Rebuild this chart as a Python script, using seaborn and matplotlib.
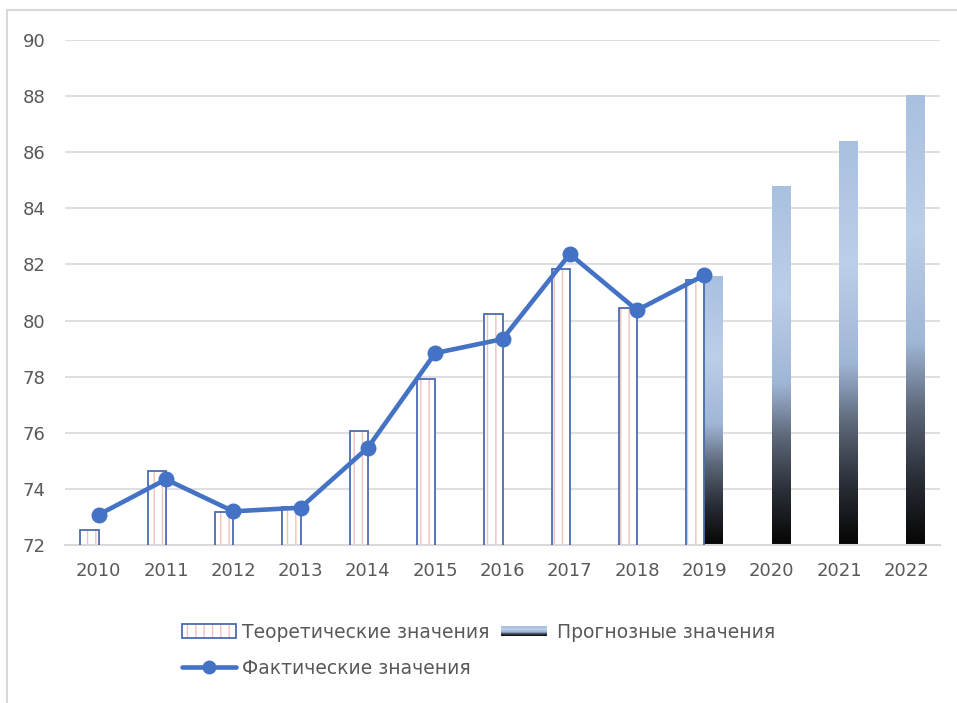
"""
Actual, theoretical and forecast values, 2010-2022
Clustered bars (theoretical / forecast) with the actual series as a line.
"""

import numpy as np
import pandas as pd
import matplotlib
matplotlib.use("Agg")
import matplotlib.pyplot as plt
import seaborn as sns
from matplotlib.colors import LinearSegmentedColormap
from matplotlib.legend_handler import HandlerBase, HandlerTuple
from matplotlib.patches import Rectangle
from matplotlib.lines import Line2D


# ─────────────────────────────────────────
# Data
# ─────────────────────────────────────────
years = ["2010", "2011", "2012", "2013", "2014", "2015", "2016",
         "2017", "2018", "2019", "2020", "2021", "2022"]

theoretical = [72.55, 74.62, 73.17, 73.35, 76.06, 77.92, 80.25,
               81.83, 80.46, 81.45, np.nan, np.nan, np.nan]

forecast = [np.nan] * 9 + [81.57, 84.78, 86.38, 88.02]

actual_years = years[:10]
actual = [73.08, 74.34, 73.20, 73.33, 75.47, 78.84, 79.34, 82.37, 80.37, 81.62]

series_names = ["Теоретические значения", "Прогнозные значения"]
line_name = "Фактические значения"

y_ticks = [72, 74, 76, 78, 80, 82, 84, 86, 88, 90]

# ─────────────────────────────────────────
# Styles
# ─────────────────────────────────────────
BLUE = "#4472C4"
OUTLINE = "#4a6cb0"
PINK = "#f0c2bc"
GRID = "#d9d9d9"
TEXT = "#595959"

grad_cmap = LinearSegmentedColormap.from_list(
    "forecast",
    [(0.00, "#050505"), (0.15, "#2a2e37"), (0.30, "#5c6778"),
     (0.45, "#a0b6d6"), (0.70, "#bccfe8"), (1.00, "#a9c0e0")],
)


class GradientHandler(HandlerBase):
    """Legend key drawn as a vertical gradient (dark bottom, light top)."""

    def create_artists(self, legend, orig_handle, xdescent, ydescent,
                       width, height, fontsize, trans):
        n = 24
        h = height * 0.7
        y0 = -ydescent + (height - h) / 2
        arts = []
        for i in range(n):
            arts.append(Rectangle(
                (-xdescent + width * 0.08, y0 + i * h / n), width * 0.84, h / n + 0.2,
                facecolor=grad_cmap(i / (n - 1)), edgecolor="none", transform=trans,
            ))
        return arts


# ─────────────────────────────────────────
# Plot
# ─────────────────────────────────────────
sns.set_theme(style="white")
plt.rcParams["font.family"] = ["DejaVu Sans"]

df = pd.DataFrame({
    "year": years * 2,
    "value": theoretical + forecast,
    "series": [series_names[0]] * len(years) + [series_names[1]] * len(years),
})

fig = plt.figure(figsize=(9.57, 7.03), dpi=100)
ax = fig.add_axes([65 / 957, 1 - 545 / 703, (940 - 65) / 957, (545 - 40) / 703])

sns.barplot(
    data=df, x="year", y="value", hue="series",
    order=years, hue_order=series_names,
    width=0.54, dodge=True, gap=0, ax=ax, legend=False,
    linewidth=0, zorder=2,
)

y_low, y_high = y_ticks[0], y_ticks[-1]

# theoretical bars: white with pink vertical hatch and blue outline
for p in ax.containers[0]:
    if np.isnan(p.get_height()):
        continue
    p.set_facecolor("white")
    p.set_edgecolor(PINK)
    p.set_hatch("||")
    p.set_linewidth(0)
    ax.add_patch(Rectangle(p.get_xy(), p.get_width(), p.get_height(),
                           fill=False, edgecolor=OUTLINE, lw=1.3, zorder=3))

# forecast bars: vertical gradient over the visible part of the bar
grad = np.linspace(0, 1, 256).reshape(-1, 1)
for p in ax.containers[1]:
    if np.isnan(p.get_height()):
        continue
    p.set_visible(False)
    x0 = p.get_x()
    ax.imshow(grad, extent=[x0, x0 + p.get_width(), y_low, p.get_y() + p.get_height()],
              origin="lower", cmap=grad_cmap, aspect="auto", zorder=2)

# actual values
sns.pointplot(
    x=actual_years, y=actual, order=years, ax=ax,
    color=BLUE, markers="o", markersize=9, linewidth=3.3,
    errorbar=None, zorder=5,
)

ax.set_xlim(-0.5, len(years) - 0.5)
ax.set_ylim(y_low, y_high)
ax.set_yticks(y_ticks)
ax.set_xlabel("")
ax.set_ylabel("")
ax.grid(axis="y", color=GRID, lw=1.2, zorder=0)
ax.set_axisbelow(True)
for s in ["left", "right", "top"]:
    ax.spines[s].set_visible(False)
ax.spines["bottom"].set_color(GRID)
ax.spines["bottom"].set_linewidth(1.5)
ax.tick_params(axis="both", length=0, labelsize=13, labelcolor=TEXT)
ax.tick_params(axis="x", pad=12)
ax.tick_params(axis="y", pad=14)

# legend
theo_handle = Rectangle((0, 0), 1, 1, facecolor="white", edgecolor=PINK, hatch="||", lw=0)
theo_outline = Rectangle((0, 0), 1, 1, fill=False, edgecolor=OUTLINE, lw=1.3)
fc_handle = Rectangle((0, 0), 1, 1)
line_handle = Line2D([], [], color=BLUE, lw=3.3, marker="o", markersize=9)

leg = fig.legend(
    [(theo_handle, theo_outline), line_handle, fc_handle],
    [series_names[0], line_name, series_names[1]],
    handler_map={fc_handle: GradientHandler(), tuple: HandlerTuple(ndivide=1, pad=0)},
    ncol=2, loc="center", bbox_to_anchor=(0.5, 0.075),
    frameon=False, fontsize=13.5, handlelength=2.9, handleheight=0.75,
    handletextpad=0.3, columnspacing=0.4, labelspacing=0.9,
)
for t in leg.get_texts():
    t.set_color(TEXT)

# outer chart frame (visible on the top and left)
fig.patches.append(Rectangle((7 / 957, -0.5), 2, 1.5 - 10 / 703, fill=False,
                             edgecolor=GRID, lw=1.5, transform=fig.transFigure))

fig.savefig("out.png", dpi=100)
